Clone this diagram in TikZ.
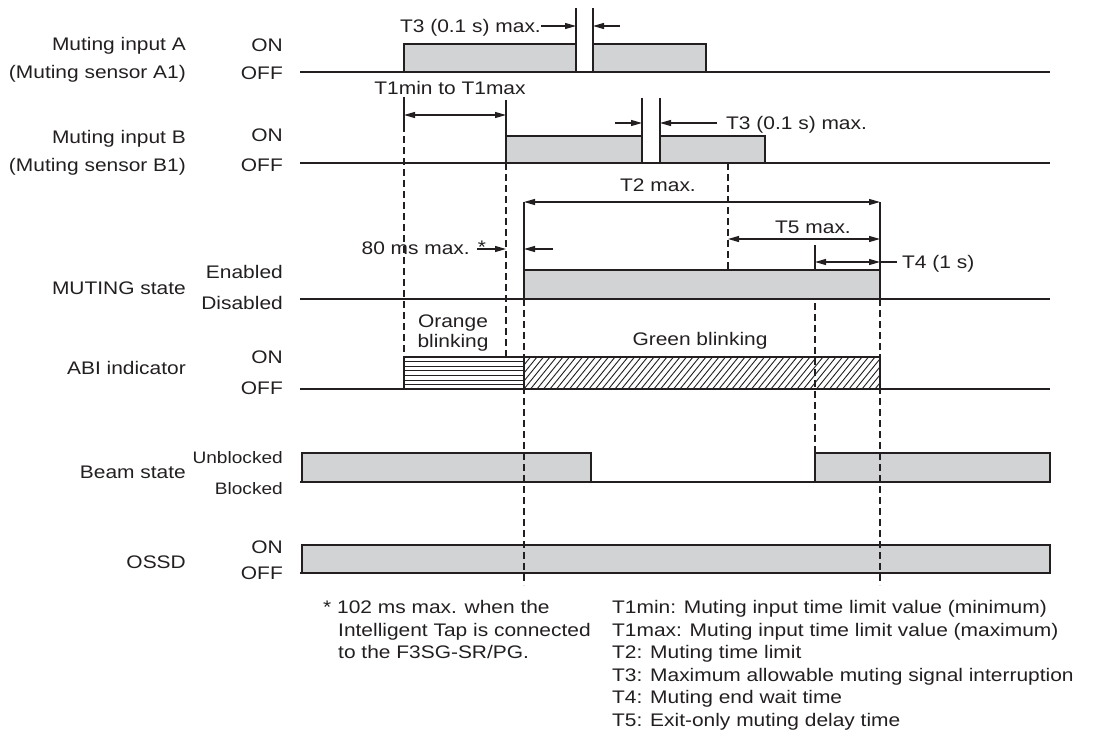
\documentclass[tikz,border=0pt]{standalone}
\usepackage{fontspec}
\setmainfont[FakeStretch=1.15]{Liberation Sans}
\usetikzlibrary{arrows.meta}
\definecolor{ink}{HTML}{231F20}
\definecolor{boxgray}{HTML}{D1D3D4}
\begin{document}
\begin{tikzpicture}[x=1pt,y=-1pt,
  lbl/.style={inner sep=0pt, text height=13pt, text depth=0pt, font=\fontsize{18.2}{22}\selectfont, text=ink},
  slbl/.style={lbl, font=\fontsize{16.6}{20}\selectfont},
  baseln/.style={line width=2pt, draw=ink},
  pulse/.style={fill=boxgray, draw=ink, line width=1.5pt},
  dim/.style={line width=1.2pt, draw=ink},
  dimarr/.style={dim, -{Triangle[length=11pt,width=6pt]}},
  dimboth/.style={dim, {Triangle[length=11pt,width=6pt]}-{Triangle[length=11pt,width=6pt]}},
  dsh/.style={line width=1.2pt, draw=ink, dash pattern=on 7pt off 4pt}]
\useasboundingbox (0,0) rectangle (1095,748);

% ---------- Row A ----------
\draw[baseln] (300,72) -- (1050,72);
\draw[pulse] (404,72) rectangle (576,44);
\draw[pulse] (593,72) rectangle (706,44);
\draw[dim] (576,44) -- (576,8);
\draw[dim] (593,44) -- (593,8);
\node[lbl, anchor=east] (t3a) at (541,26) {T3 (0.1 s) max.};
\draw[dimarr] (t3a.east) -- (576,26);
\draw[dimarr] (620,26) -- (593,26);

% ---------- T1 ----------
\node[lbl] (t1) at (450,88) {T1min to T1max};
\draw[dimboth] (404,115) -- (506,115);
\draw[dim] (404,97) -- (404,125);
\draw[dsh] (404,125) -- (404,357);
\draw[dim] (506,100) -- (506,136);

% ---------- Row B ----------
\draw[baseln] (300,163) -- (1050,163);
\draw[pulse] (506,163) rectangle (642,136);
\draw[pulse] (660,163) rectangle (765,136);
\draw[dim] (642,136) -- (642,98);
\draw[dim] (660,136) -- (660,98);
\draw[dimarr] (615,123) -- (642,123);
\node[lbl, anchor=west] (t3b) at (726,123) {T3 (0.1 s) max.};
\draw[dimarr] (717,123) -- (660,123);
\draw[dsh] (506,163) -- (506,357);
\draw[dsh] (728,163) -- (728,299);

% ---------- T2 / T5 / T4 / 80 ms ----------
\node[lbl] (t2) at (658,185) {T2 max.};
\draw[dimboth] (524,202) -- (880,202);
\draw[dim] (524,202) -- (524,270);
\draw[dim] (880,202) -- (880,270);
\node[lbl] (t5) at (813,227) {T5 max.};
\draw[dimboth] (728,239) -- (880,239);
\draw[dimboth] (815,262) -- (880,262);
\draw[dim] (880,262) -- (897,262);
\node[lbl, anchor=west] (t4) at (902,262) {T4 (1 s)};
\draw[dim] (815,245) -- (815,270);
\draw[dsh] (815,270) -- (815,453);
\node[lbl, anchor=east] (ms80) at (470,248) {80 ms max.};
\node[lbl] (star1) at (482,247) {*};
\draw[dimarr] (477,249) -- (506,249);
\draw[dimarr] (553,249) -- (524,249);

% ---------- MUTING state ----------
\draw[baseln] (300,299) -- (1050,299);
\draw[pulse] (524,299) rectangle (880,270);

% ---------- ABI indicator ----------
\draw[baseln] (300,389) -- (1050,389);
\foreach \yy in {361.6,366.2,370.8,375.4,380,384.6}
  \draw[ink, line width=1pt] (404,\yy) -- (524,\yy);
\draw[ink, line width=1.3pt] (404,389) rectangle (524,357);
\begin{scope}
  \clip (524,389) rectangle (880,357);
  \foreach \xx in {498,504.5,...,890}
    \draw[ink, line width=0.9pt] (\xx,389) -- (\xx+26,357);
\end{scope}
\draw[ink, line width=1.3pt] (524,389) rectangle (880,357);
\node[lbl] (orange1) at (453,321) {Orange};
\node[lbl] (orange2) at (453,341) {blinking};
\node[lbl] (green) at (700,339) {Green blinking};

% ---------- Beam state ----------
\draw[baseln] (300,482) -- (1050,482);
\draw[pulse] (302,482) rectangle (591,453);
\draw[pulse] (815,482) rectangle (1050,453);

% ---------- OSSD ----------
\draw[baseln] (300,573) -- (1050,573);
\draw[pulse] (302,573) rectangle (1050,545);

% ---------- long dashed lines ----------
\draw[dsh] (524,299) -- (524,585);
\draw[dsh] (880,299) -- (880,585);

% ---------- left labels ----------
\node[lbl, anchor=east] (la1) at (186,44) {Muting input A};
\node[lbl, anchor=east] (la2) at (186,72) {(Muting sensor A1)};
\node[lbl, anchor=east] (lb1) at (186,137) {Muting input B};
\node[lbl, anchor=east] (lb2) at (186,165) {(Muting sensor B1)};
\node[lbl, anchor=east] (lm) at (186,288) {MUTING state};
\node[lbl, anchor=east] (labi) at (186,368) {ABI indicator};
\node[lbl, anchor=east] (lbeam) at (186,472) {Beam state};
\node[lbl, anchor=east] (lossd) at (186,562) {OSSD};

% ---------- state labels ----------
\node[lbl, anchor=east] (sa1) at (283,45) {ON};
\node[lbl, anchor=east] (sa2) at (283,73) {OFF};
\node[lbl, anchor=east] (sb1) at (283,135) {ON};
\node[lbl, anchor=east] (sb2) at (283,165) {OFF};
\node[lbl, anchor=east] (sm1) at (283,272) {Enabled};
\node[lbl, anchor=east] (sm2) at (283,303) {Disabled};
\node[lbl, anchor=east] (si1) at (283,357) {ON};
\node[lbl, anchor=east] (si2) at (283,388) {OFF};
\node[slbl, anchor=east] (sbm1) at (283,457) {Unblocked};
\node[slbl, anchor=east] (sbm2) at (283,488) {Blocked};
\node[lbl, anchor=east] (so1) at (283,547) {ON};
\node[lbl, anchor=east] (so2) at (283,573) {OFF};

% ---------- footnotes ----------
\node[lbl, anchor=west] (fn1) at (323,607) {* 102 ms max. when the};
\node[lbl, anchor=west] (fn2) at (338,630) {Intelligent Tap is connected};
\node[lbl, anchor=west] (fn3) at (338,652) {to the F3SG-SR/PG.};
\node[lbl, anchor=west] (d1) at (612,607) {T1min: Muting input time limit value (minimum)};
\node[lbl, anchor=west] (d2) at (612,630) {T1max: Muting input time limit value (maximum)};
\node[lbl, anchor=west] (d3) at (612,652) {T2: Muting time limit};
\node[lbl, anchor=west] (d4) at (612,675) {T3: Maximum allowable muting signal interruption};
\node[lbl, anchor=west] (d5) at (612,697) {T4: Muting end wait time};
\node[lbl, anchor=west] (d6) at (612,720) {T5: Exit-only muting delay time};
\end{tikzpicture}
\end{document}
